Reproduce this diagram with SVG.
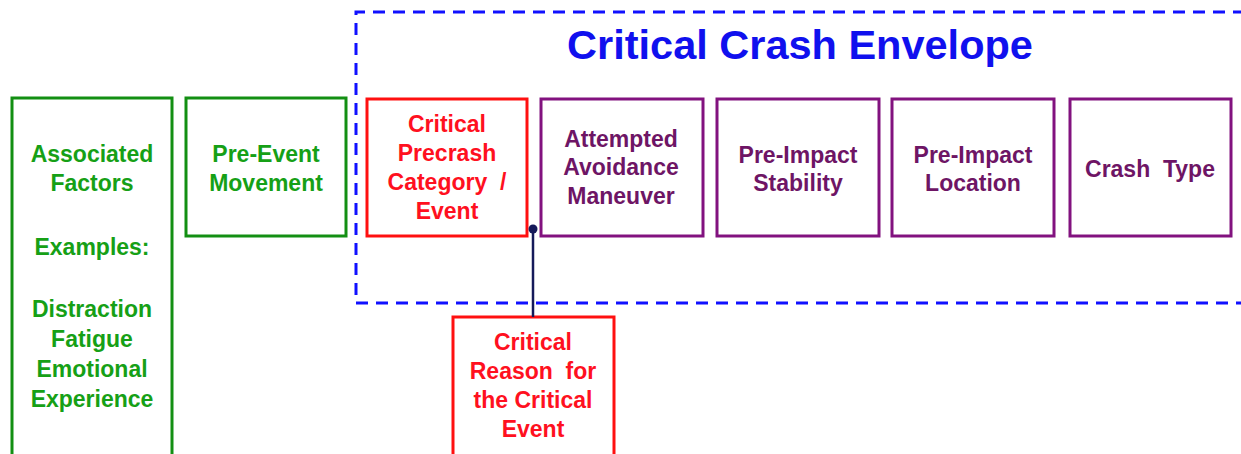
<svg xmlns="http://www.w3.org/2000/svg" width="1241" height="454" viewBox="0 0 1241 454">
<style>
.box{fill:#fff;stroke-width:3}
.g{stroke:#138f13}
.r{stroke:#ff1010}
.p{stroke:#82127f}
text{font-family:"Liberation Sans",Arial,sans-serif;font-weight:bold;font-size:23px;text-anchor:middle}
.tg{fill:#16a016}
.tr{fill:#ff1020}
.tp{fill:#6e1565}
</style>
<rect width="1241" height="454" fill="#fff"/>
<g id="envelope">
<path d="M1245 12 H356 V303 H1245" fill="none" stroke="#1010ff" stroke-width="3" stroke-dasharray="12 8"/>
<text x="800" y="59" style="font-size:41.5px;fill:#1010ee">Critical Crash Envelope</text>
</g>
<g id="associated">
<rect class="box g" x="12" y="98" width="160" height="370"/>
<text class="tg" x="92" y="162">Associated</text>
<text class="tg" x="92" y="191">Factors</text>
<text class="tg" x="92" y="255">Examples:</text>
<text class="tg" x="92" y="317">Distraction</text>
<text class="tg" x="92" y="347">Fatigue</text>
<text class="tg" x="92" y="377">Emotional</text>
<text class="tg" x="92" y="407">Experience</text>
</g>
<g id="preevent">
<rect class="box g" x="186" y="98" width="160" height="138"/>
<text class="tg" x="266" y="162">Pre-Event</text>
<text class="tg" x="266" y="191">Movement</text>
</g>
<g id="critical-event">
<rect class="box r" x="367" y="99" width="160" height="137"/>
<text class="tr" x="447" y="132">Critical</text>
<text class="tr" x="447" y="161">Precrash</text>
<text class="tr" x="447" y="190" xml:space="preserve">Category  /</text>
<text class="tr" x="447" y="219">Event</text>
</g>
<g id="avoidance">
<rect class="box p" x="541" y="99" width="162" height="137"/>
<text class="tp" x="621" y="147">Attempted</text>
<text class="tp" x="621" y="175">Avoidance</text>
<text class="tp" x="621" y="204">Maneuver</text>
</g>
<g id="stability">
<rect class="box p" x="717" y="99" width="162" height="137"/>
<text class="tp" x="798" y="163">Pre-Impact</text>
<text class="tp" x="798" y="191">Stability</text>
</g>
<g id="location">
<rect class="box p" x="892" y="99" width="162" height="137"/>
<text class="tp" x="973" y="163">Pre-Impact</text>
<text class="tp" x="973" y="191">Location</text>
</g>
<g id="crashtype">
<rect class="box p" x="1070" y="99" width="161" height="137"/>
<text class="tp" x="1150" y="177" xml:space="preserve">Crash  Type</text>
</g>
<g id="critical-reason">
<rect class="box r" x="453" y="317" width="161" height="150"/>
<text class="tr" x="533" y="350">Critical</text>
<text class="tr" x="533" y="379" xml:space="preserve">Reason  for</text>
<text class="tr" x="533" y="408">the Critical</text>
<text class="tr" x="533" y="437">Event</text>
</g>
<g id="connectors">
<line x1="533" y1="229" x2="533" y2="317" stroke="#151a5a" stroke-width="2.5"/>
<circle cx="533" cy="229" r="4.5" fill="#151a5a"/>
</g>
</svg>
